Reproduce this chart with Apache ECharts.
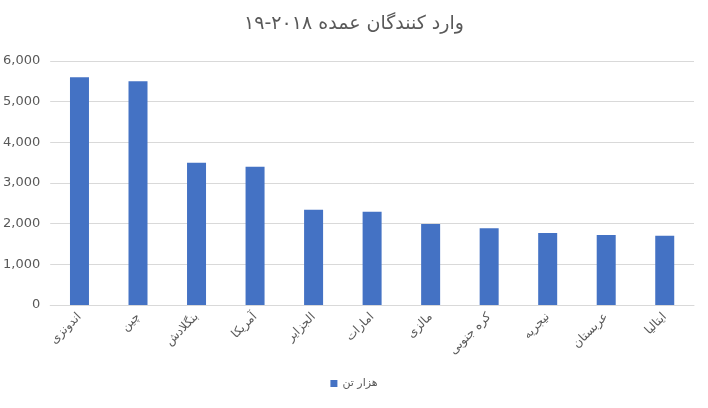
<!DOCTYPE html>
<html><head><meta charset="utf-8">
<script src="https://cdn.jsdelivr.net/npm/echarts@6/dist/echarts.min.js"></script>
<style>html,body{margin:0;padding:0;background:#fff}#c{width:708px;height:408px}</style>
</head><body><div id="c"></div>
<script>
const categories = ['اندونزی','چین','بنگلادش','آمریکا','الجزایر','امارات','مالزی','کره جنوبی','نیجریه','عربستان','ایتالیا'];
const values = [5600,5500,3500,3400,2340,2290,1990,1890,1770,1720,1700];
const seriesName = 'هزار تن';
const titleText = 'وارد کنندگان عمده ۲۰۱۸-۱۹';
const chart = echarts.init(document.getElementById('c'));
chart.setOption({
  animation:false,
  textStyle:{fontFamily:'DejaVu Sans'},
  title:{text:titleText,left:'center',top:10,textStyle:{fontSize:19,fontWeight:'normal',color:'#595959',fontFamily:'DejaVu Sans'}},
  legend:{bottom:14,left:'center',itemWidth:7,itemHeight:7,icon:'rect',textStyle:{color:'#595959',fontSize:11},data:[seriesName]},
  grid:{left:48,right:14,top:61,bottom:103},
  xAxis:{type:'category',data:categories,axisTick:{show:false},axisLine:{lineStyle:{color:'#d9d9d9'}},
    axisLabel:{rotate:45,color:'#595959',fontSize:12,margin:10}},
  yAxis:{type:'value',min:0,max:6000,interval:1000,axisLine:{show:false},axisTick:{show:false},
    axisLabel:{color:'#595959',fontSize:13,margin:10},splitLine:{lineStyle:{color:'#d9d9d9'}}},
  series:[{name:seriesName,type:'bar',data:values,barWidth:19,itemStyle:{color:'#4472c4'}}]
});
</script></body></html>
